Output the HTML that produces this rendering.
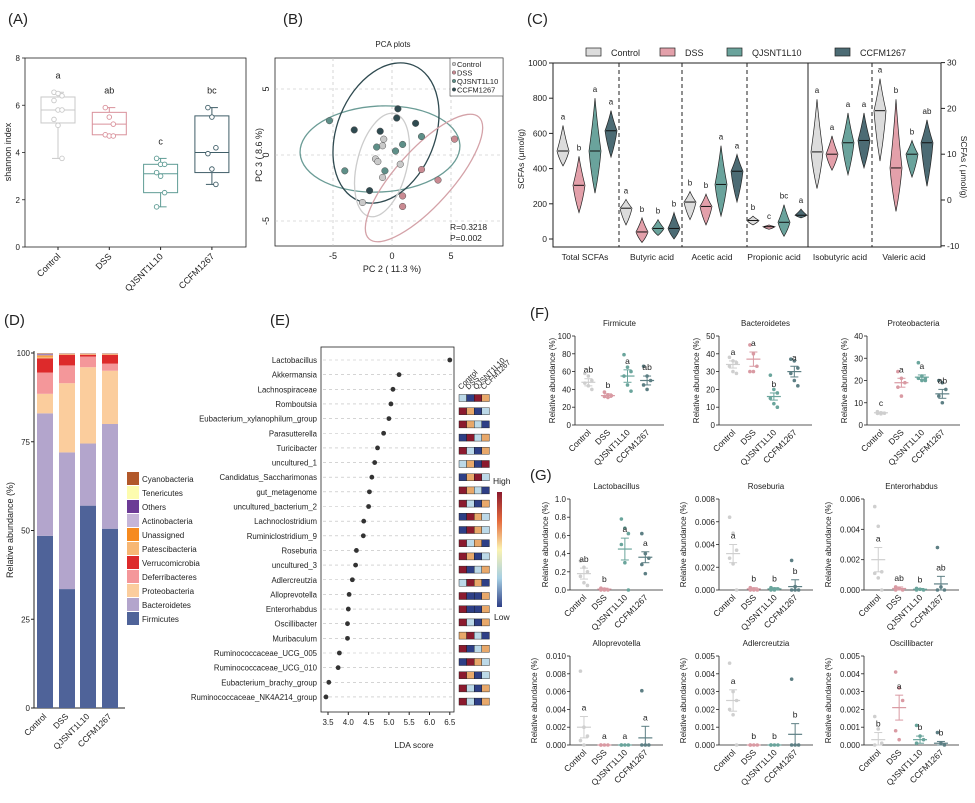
<!DOCTYPE html>
<html><head><meta charset="utf-8"><style>
html,body{margin:0;padding:0;background:#fff;}
svg{display:block;font-family:"Liberation Sans",Arial,sans-serif;}
</style></head><body>
<svg id="fig" width="975" height="803" viewBox="0 0 975 803"></svg>
<script>
// ---------- DATA ----------
const groups = ["Control","DSS","QJSNT1L10","CCFM1267"];
// Panel A
const shannonBox = [[3.75,5.25,5.8,6.35,6.55],[4.7,4.75,5.2,5.7,5.9],[1.7,2.3,3.1,3.5,3.75],[2.65,3.15,4.0,5.55,5.9]];
const shannonPts = [[6.55,6.5,6.4,6.2,5.8,5.8,5.4,5.15,3.75],[5.9,5.5,5.2,4.75,4.7,4.7],[3.75,3.5,3.5,3.15,3.0,2.3,1.7],[5.9,5.5,4.2,3.95,3.3,2.65]];
const shannonLetters = ["a","ab","c","bc"];
const shannonTicks = [0,2,4,6,8];
// Panel B
const pcaX = [[-0.7,-0.8,-1.4,-1.2,0.7,-0.8,-2.5],[5.3,2.5,3.9,0.9,0.9],[-5.3,2.5,0.9,0.3,-1.3,-4.0,-0.6],[0.5,0.4,-3.2,-1.0,2.0,-1.9]];
const pcaY = [[1.2,0.7,-0.3,-0.5,-0.7,-1.7,-3.6],[1.2,-1.1,-1.9,-3.1,-3.9],[2.6,1.4,0.8,0.3,0.6,-1.2,-1.2],[3.5,2.8,1.9,1.8,2.4,-2.7]];
const pcaTicks = [-5,0,5];
// Panel C
const scfaCats = ["Total SCFAs","Butyric acid","Acetic acid","Propionic acid","Isobutyric acid","Valeric acid"];
const scfaMed = [[500,305,500,615],[175,40,60,60],[210,185,310,385],[105,70,95,135],[10.5,10,12.5,13],[19.5,7,10,12.5]];
const scfaMin = [[415,150,260,465],[80,-20,20,0],[110,80,130,210],[80,55,15,120],[2.5,6.5,5.5,7],[8.5,-2.5,5,3]];
const scfaMax = [[645,470,800,730],[225,120,110,150],[270,255,530,480],[130,80,195,170],[22,14,19,19],[26.5,22,13,17.5]];
const scfaLetters = [["a","b","a","a"],["a","b","b","b"],["b","b","a","a"],["b","c","bc","a"],["a","a","a","a"],["a","b","b","ab"]];
const scfaLeftTicks = [0,200,400,600,800,1000];
const scfaRightTicks = [-10,0,10,20,30];
// Panel D
const phyla = ["Firmicutes","Bacteroidetes","Proteobacteria","Deferribacteres","Verrucomicrobia","Patescibacteria","Unassigned","Actinobacteria","Others","Tenericutes","Cyanobacteria"];
const phylaColors = ["#4f6399","#b3a5cc","#fbcd9d","#f4979a","#dd2a2b","#f7b774","#f68a1f","#c5b5d8","#6c3b96","#fdfcae","#b2582a"];
const phylaVals = [[48.5,34.5,5.5,6,4,0.5,0.3,0.3,0.2,0.1,0.1],[33.5,38.5,19.5,5,3,0.2,0.1,0.1,0.05,0.03,0.02],[57,17.5,21.5,3,0.5,0.2,0.1,0.1,0.05,0.03,0.02],[50.5,29.5,15,2,2.5,0.2,0.1,0.1,0.05,0.03,0.02]];
const phylaTicks = [0,25,50,75,100];
// Panel E
const ldaNames = ["Lactobacillus","Akkermansia","Lachnospiraceae","Romboutsia","Eubacterium_xylanophilum_group","Parasutterella","Turicibacter","uncultured_1","Candidatus_Saccharimonas","gut_metagenome","uncultured_bacterium_2","Lachnoclostridium","Ruminiclostridium_9","Roseburia","uncultured_3","Adlercreutzia","Alloprevotella","Enterorhabdus","Oscillibacter","Muribaculum","Ruminococcaceae_UCG_005","Ruminococcaceae_UCG_010","Eubacterium_brachy_group","Ruminococcaceae_NK4A214_group"];
const ldaVals = [6.5,5.25,5.1,5.05,5.0,4.87,4.72,4.65,4.58,4.52,4.5,4.38,4.37,4.2,4.18,4.1,4.02,4.0,3.98,3.98,3.78,3.75,3.52,3.45];
const ldaTicks = [3.5,4.0,4.5,5.0,5.5,6.0,6.5];
const heatLevels = [[3,4,1,2],[1,2,4,3],[1,2,3,4],[4,1,3,2],[1,3,4,2],[3,2,4,1],[4,2,1,3],[1,2,3,4],[1,3,4,2],[4,1,2,3],[4,1,2,3],[1,3,2,4],[1,2,4,3],[1,4,3,2],[3,1,2,4],[1,4,4,2],[1,4,4,2],[1,3,4,2],[2,1,3,4],[1,4,3,2],[4,1,2,3],[1,2,4,3],[1,3,4,2],[1,3,4,2]];
// Panels F/G
const dotTitles = ["Firmicute","Bacteroidetes","Proteobacteria","Lactobacillus","Roseburia","Enterorhabdus","Alloprevotella","Adlercreutzia","Oscillibacter"];
const dotMax = [100,50,40,1.0,0.008,0.006,0.010,0.005,0.005];
const dotStep = [20,10,10,0.2,0.002,0.002,0.002,0.001,0.001];
const dotMeans = [[48,33,55,50],[34,37,16,30],[5.5,19,21.5,14],[0.18,0.01,0.45,0.36],[0.0032,0.0001,0.0001,0.0003],[0.002,0.0001,0.00005,0.0004],[0.002,0,0,0.0008],[0.0025,0,0,0.0006],[0.0003,0.0021,0.0003,0.0001]];
const dotSem = [[4,2,7,5],[2,4,2,3],[0.3,2,1,2],[0.06,0.01,0.12,0.06],[0.0008,0.0001,0.0001,0.0006],[0.0008,0.0001,0.00005,0.0005],[0.0012,0,0,0.0013],[0.0006,0,0,0.0006],[0.0004,0.0007,0.0002,0.0001]];
const dotPts = [
 [[58,55,50,47,44,40],[37,34,33,32,31],[79,65,60,55,45,38],[66,55,50,45,40]],
 [[38,36,35,33,30,29],[45,40,33,30,30],[28,20,18,15,12,10],[37,36,32,29,25,22]],
 [[6,5.5,5.3,5.2,5],[24,21,19,17,13],[28,22,21,21,20,20],[20,19,16,13,10]],
 [[0.32,0.25,0.2,0.15,0.08,0.05],[0.02,0.01,0,0,0],[0.78,0.68,0.62,0.5,0.3,0],[0.62,0.4,0.35,0.28,0.18]],
 [[0.0064,0.005,0.0035,0.0028,0.0023,0],[0.0002,0.0001,0,0,0],[0.0002,0.0001,0.0001,0,0],[0.0026,0.0003,0,0,0]],
 [[0.0055,0.0042,0.0012,0.0011,0.0008,0],[0.0002,0.0001,0,0],[0.0001,0.00005,0,0],[0.0028,0.0002,0,0]],
 [[0.0083,0.002,0.001,0.0005,0],[0,0,0,0],[0,0,0,0],[0.0061,0,0,0]],
 [[0.0046,0.003,0.0025,0.002,0.0017,0],[0,0,0,0],[0,0,0,0],[0.0037,0,0,0]],
 [[0.0016,0.0009,0.0001,0],[0.0041,0.0032,0.0025,0.0008,0.0003],[0.0011,0.0005,0.0003,0.0001],[0.0007,0.0001,0]]
];
const dotLetters = [["ab","b","a","ab"],["a","a","b","a"],["c","a","a","ab"],["ab","b","a","a"],["a","b","b","b"],["a","ab","b","ab"],["a","a","a","a"],["a","b","b","b"],["b","a","b","b"]];

// ---------- DRAW ----------
const svg = document.getElementById('fig');
const NS = "http://www.w3.org/2000/svg";
function mk(tag, attrs, name, parent){
  const el = document.createElementNS(NS, tag);
  for (const k in attrs) el.setAttribute(k, attrs[k]);
  
  
  (parent||svg).appendChild(el);
  return el;
}
function txt(x,y,s,name,opt){
  opt = opt||{};
  const a = {x:x,y:y,'font-size':opt.fs||9,fill:opt.fill||'#222','text-anchor':opt.anchor||'middle'};
  if (opt.rot!==undefined) a.transform = `rotate(${opt.rot} ${x} ${y})`;
  const t = mk('text', a, name);
  t.textContent = s;
  return t;
}
const gcol = ["#c9c9c9","#d9919b","#5f9c95","#405e68"];
const gfill = ["#dcdcdc","#e3a0aa","#6aa39c","#4c6b74"];

// Panel labels
[["(A)",8,24],["(B)",283,24],["(C)",527,24],["(D)",4,325],["(E)",270,325],["(F)",530,318],["(G)",530,480]].forEach(p=>{
  txt(p[1],p[2],p[0],'panel-label-'+p[0][1].toLowerCase(),{fs:15,anchor:'start'});
});

// ---- Panel A ----
{
  const L=25,R=246,T=58,B=247;
  const ys = v => B - (v/8)*(B-T);
  const xs = i => 58 + i*51.3;
  mk('rect',{x:L,y:T,width:R-L,height:B-T,fill:'none',stroke:'#222','stroke-width':0.8},'shannon-plot-frame');
  shannonTicks.forEach(t=>{ mk('line',{x1:L-3,x2:L,y1:ys(t),y2:ys(t),stroke:'#222','stroke-width':0.8},'y-tick'); txt(L-5,ys(t)+3,t,'y-tick-label',{anchor:'end',fs:8}); });
  txt(11,152,'shannon index','y-axis-title',{rot:-90,fs:9});
  groups.forEach((g,i)=>{
    const b=shannonBox[i], x=xs(i), c=gcol[i];
    mk('line',{x1:x,x2:x,y1:ys(b[0]),y2:ys(b[4]),stroke:c,'stroke-width':1},'whisker-'+g);
    mk('line',{x1:x-6,x2:x+6,y1:ys(b[0]),y2:ys(b[0]),stroke:c},'whisker-cap');
    mk('line',{x1:x-6,x2:x+6,y1:ys(b[4]),y2:ys(b[4]),stroke:c},'whisker-cap');
    mk('rect',{x:x-17,y:ys(b[3]),width:34,height:ys(b[1])-ys(b[3]),fill:'#fff',stroke:c,'stroke-width':1},'box-'+g);
    mk('line',{x1:x-17,x2:x+17,y1:ys(b[2]),y2:ys(b[2]),stroke:c},'median-'+g);
    shannonPts[i].forEach((p,j)=>mk('circle',{cx:x+((j%3)-1)*4,cy:ys(p),r:2.3,fill:'#fff',stroke:c,'stroke-width':0.9},'point-'+g));
    txt(x,ys(b[4])-14,shannonLetters[i],'sig-letter',{fs:9});
    mk('line',{x1:x,x2:x,y1:B,y2:B+3,stroke:'#222'},'x-tick');
    txt(x+3,B+10,g,'x-tick-label',{anchor:'end',rot:-45,fs:9});
  });
}

// ---- Panel B ----
{
  const L=275,R=503,T=58,B=246;
  const xs=v=>392+v*11.8, ys=v=>155-v*13.2;
  txt(393,47,'PCA plots','pca-title',{fs:8});
  mk('rect',{x:L,y:T,width:R-L,height:B-T,fill:'none',stroke:'#222','stroke-width':0.8},'pca-frame');
  pcaTicks.forEach(t=>{
    mk('line',{x1:xs(t),x2:xs(t),y1:T,y2:B,stroke:'#bbb','stroke-dasharray':'3,3','stroke-width':0.6},'grid-x');
    mk('line',{x1:L,x2:R,y1:ys(t),y2:ys(t),stroke:'#bbb','stroke-dasharray':'3,3','stroke-width':0.6},'grid-y');
    txt(xs(t),B+13,t,'x-tick-label',{fs:9});
    txt(L-6,ys(t),t,'y-tick-label',{fs:9,rot:-90});
  });
  txt(392,272,'PC 2 ( 11.3 %)','x-axis-title',{fs:9});
  txt(262,155,'PC 3 ( 8.6 %)','y-axis-title',{fs:9,rot:-90});
  mk('ellipse',{cx:380,cy:149,rx:80,ry:43,fill:'none',stroke:'#6b9c96','stroke-width':1.3,transform:'rotate(-3 380 149)'},'ellipse-QJSNT1L10');
  mk('ellipse',{cx:386,cy:133,rx:49,ry:73,fill:'none',stroke:'#2f4a50','stroke-width':1.3,transform:'rotate(22 386 133)'},'ellipse-CCFM1267');
  mk('ellipse',{cx:382,cy:165,rx:25,ry:53,fill:'none',stroke:'#ccc','stroke-width':1.3,transform:'rotate(14 382 165)'},'ellipse-Control');
  mk('ellipse',{cx:424,cy:178,rx:28,ry:82,fill:'none',stroke:'#d4a2a8','stroke-width':1.3,transform:'rotate(42 424 178)'},'ellipse-DSS');
  const pc = ["#c9c9c9","#c98a92","#5e8f88","#2f4a50"];
  groups.forEach((g,i)=>pcaX[i].forEach((v,j)=>mk('circle',{cx:xs(v),cy:ys(pcaY[i][j]),r:3.3,fill:pc[i],stroke:'#555','stroke-width':0.5},'pca-point-'+g)));
  mk('rect',{x:450,y:58,width:53,height:38,fill:'#fff',stroke:'#444','stroke-width':0.6},'pca-legend');
  groups.forEach((g,i)=>{ mk('circle',{cx:454,cy:64+i*8.5,r:1.8,fill:pc[i],stroke:'#444','stroke-width':0.4},'legend-dot'); txt(457,67+i*8.5,g,'legend-entry',{anchor:'start',fs:7.5}); });
  txt(450,230,'R=0.3218','r-value',{anchor:'start',fs:8.5});
  txt(450,241,'P=0.002','p-value',{anchor:'start',fs:8.5});
}

// ---- Panel C ----
{
  const L=553,R=941,T=63,B=247;
  const yl=v=>239-v*0.176, yr=v=>200-v*4.58;
  const cx=[[563,579,595,611],[626,642,658,674],[690,706,721,737],[753,769,784,801],[817,832,848,864],[880,896,912,927]];
  const lx=[585,652,712,774,840,904];
  const seps=[[619,1],[682,1],[747,1],[808,0],[872,1]];
  mk('rect',{x:L,y:T,width:R-L,height:B-T,fill:'none',stroke:'#222','stroke-width':1},'scfa-frame');
  seps.forEach(s=>mk('line',{x1:s[0],x2:s[0],y1:T,y2:B,stroke:'#222','stroke-width':1,'stroke-dasharray':s[1]?'4,3':'none'},'category-separator'));
  scfaLeftTicks.forEach(t=>{ mk('line',{x1:L-4,x2:L,y1:yl(t),y2:yl(t),stroke:'#222'},'y-tick-left'); txt(L-6,yl(t)+3,t,'y-tick-label-left',{anchor:'end',fs:8.5}); });
  scfaRightTicks.forEach(t=>{ mk('line',{x1:R,x2:R+4,y1:yr(t),y2:yr(t),stroke:'#222'},'y-tick-right'); txt(R+6,yr(t)+3,t,'y-tick-label-right',{anchor:'start',fs:8.5}); });
  txt(524,159,'SCFAs (μmol/g)','y-axis-title-left',{rot:-90,fs:8.5});
  txt(961,167,'SCFAs ( μmol/g)','y-axis-title-right',{rot:90,fs:8.5});
  scfaCats.forEach((c,k)=>{
    txt(lx[k],260,c,'category-label',{fs:8.5});
    const y = k>=4?yr:yl;
    groups.forEach((g,i)=>{
      const x=cx[k][i], top=y(scfaMax[k][i]), bot=y(scfaMin[k][i]), med=y(scfaMed[k][i]);
      const w=6, u=top+(med-top)*0.45, d=med+(bot-med)*0.5;
      const dpath=`M${x},${top} Q${x+2},${u} ${x+w},${med} Q${x+w*0.7},${d} ${x},${bot} Q${x-w*0.7},${d} ${x-w},${med} Q${x-2},${u} ${x},${top} Z`;
      mk('path',{d:dpath,fill:gfill[i],stroke:'#222','stroke-width':0.7},'violin-'+g);
      mk('line',{x1:x-w+1,x2:x+w-1,y1:med,y2:med,stroke:'#111','stroke-width':1},'violin-median');
      txt(x,top-6,scfaLetters[k][i],'sig-letter',{fs:8});
    });
  });
  const lgx=[586,660,727,835];
  groups.forEach((g,i)=>{ mk('rect',{x:lgx[i],y:48,width:15,height:8,fill:gfill[i],stroke:'#222','stroke-width':0.7},'legend-swatch-'+g); txt(lgx[i]+25,56,g,'legend-entry',{anchor:'start',fs:9}); });
}

// ---- Panel D ----
{
  const L=34,B=708,T=353;
  const ys=v=>B-v/100*(B-T);
  const bx=[37,59,80,102];
  mk('line',{x1:L,x2:L,y1:T-2,y2:B,stroke:'#222'},'y-axis');
  mk('line',{x1:L,x2:125,y1:B,y2:B,stroke:'#222'},'x-axis');
  phylaTicks.forEach(t=>{ mk('line',{x1:L-3,x2:L,y1:ys(t),y2:ys(t),stroke:'#222'},'y-tick'); txt(L-4,ys(t)+3,t,'y-tick-label',{anchor:'end',fs:8}); });
  txt(13,530,'Relative abundance (%)','y-axis-title',{rot:-90,fs:9});
  groups.forEach((g,i)=>{
    let acc=0;
    phylaVals[i].forEach((v,k)=>{ mk('rect',{x:bx[i],y:ys(acc+v),width:16,height:ys(acc)-ys(acc+v),fill:phylaColors[k]},'bar-'+phyla[k]+'-'+g); acc+=v; });
    if (acc<100) mk('rect',{x:bx[i],y:ys(100),width:16,height:ys(acc)-ys(100),fill:'#e9c2b4'},'bar-rest');
    txt(bx[i]+10,B+9,g,'x-tick-label',{anchor:'end',rot:-45,fs:8.5});
  });
  const order=[10,9,8,7,6,5,4,3,2,1,0];
  order.forEach((k,j)=>{ mk('rect',{x:127,y:472+j*14,width:12,height:13,fill:phylaColors[k]},'legend-swatch-'+phyla[k]); txt(142,482+j*14,phyla[k],'legend-entry',{anchor:'start',fs:8}); });
}

// ---- Panel E ----
{
  const L=321,R=454,T=347,B=712;
  const xs=v=>328+(v-3.5)*40.6;
  const ry=i=>360+i*14.65;
  mk('rect',{x:L,y:T,width:R-L,height:B-T,fill:'none',stroke:'#222','stroke-width':0.8},'lda-frame');
  ldaNames.forEach((n,i)=>{
    mk('line',{x1:L+2,x2:R-2,y1:ry(i),y2:ry(i),stroke:'#bbb','stroke-dasharray':'3,3','stroke-width':0.6},'row-guide');
    mk('circle',{cx:xs(ldaVals[i]),cy:ry(i),r:2.4,fill:'#333'},'lda-point-'+n);
    txt(317,ry(i)+3,n,'taxon-label',{anchor:'end',fs:7.8});
  });
  ldaTicks.forEach(t=>{ mk('line',{x1:xs(t),x2:xs(t),y1:B,y2:B+3,stroke:'#222'},'x-tick'); txt(xs(t),B+13,t.toFixed(1),'x-tick-label',{fs:8}); });
  txt(414,748,'LDA score','x-axis-title',{fs:8.5});
  const hc={1:'#8b1a2e',2:'#e8a86a',3:'#bcd9e8',4:'#2e3f86'};
  heatLevels.forEach((row,i)=>row.forEach((l,j)=>mk('rect',{x:459+j*7.6,y:394.5+i*13.2,width:7.6,height:7,fill:hc[l],stroke:'#111','stroke-width':0.4},'heatmap-cell')));
  groups.forEach((g,j)=>txt(461+j*7.6,390,g,'heatmap-column-label',{anchor:'start',rot:-45,fs:7.5}));
  const defs=mk('defs',{},'defs');
  const lg=mk('linearGradient',{id:'cb',x1:0,y1:0,x2:0,y2:1},'colorbar-gradient',defs);
  [['0','#8b1a2e'],['0.25','#e46a3c'],['0.5','#fbf3b0'],['0.75','#a6cfe3'],['1','#2e3f86']].forEach(s=>mk('stop',{offset:s[0],'stop-color':s[1]},'gradient-stop',lg));
  mk('rect',{x:497,y:492,width:5,height:115,fill:'url(#cb)'},'colorbar');
  txt(493,484,'High','colorbar-high-label',{anchor:'start',fs:8.5});
  txt(494,620,'Low','colorbar-low-label',{anchor:'start',fs:8.5});
}

// ---- Panels F/G ----
{
  const boxes=[[575,664,336,425],[719,812,336,425],[867,960,336,425],
               [570,663,499,590],[719,813,499,590],[864,959,499,590],
               [570,663,656,745],[719,813,656,745],[864,959,656,745]];
  const dc=["#cfcfcf","#d99aa3","#6aa59c","#5d7f84"];
  dotTitles.forEach((title,p)=>{
    const [L,R,T,B]=boxes[p], W=R-L;
    const ys=v=>B-v/dotMax[p]*(B-T);
    const xs=i=>L+W*(0.15+0.22*i);
    txt((L+R)/2,T-10,title,'subplot-title-'+title,{fs:8});
    mk('line',{x1:L,x2:L,y1:T,y2:B,stroke:'#222','stroke-width':0.8},'y-axis');
    mk('line',{x1:L,x2:R,y1:B,y2:B,stroke:'#222','stroke-width':0.8},'x-axis');
    const dec = dotStep[p]<0.01?3:(dotStep[p]<1?1:0);
    for(let t=0;t<=dotMax[p]+1e-9;t+=dotStep[p]){
      mk('line',{x1:L-3,x2:L,y1:ys(t),y2:ys(t),stroke:'#222','stroke-width':0.8},'y-tick');
      txt(L-4,ys(t)+3,t.toFixed(dec),'y-tick-label',{anchor:'end',fs:8});
    }
    txt(L-(dec===3?33:(dec===1?22:20)),(T+B)/2,'Relative abundance (%)','y-axis-title',{rot:-90,fs:8});
    groups.forEach((g,i)=>{
      const x=xs(i), c=dc[i];
      dotPts[p][i].forEach((v,j)=>mk('circle',{cx:x+((j%3)-1)*3.5,cy:ys(v),r:1.8,fill:c},'dot-'+g));
      const m=dotMeans[p][i], s=dotSem[p][i];
      mk('line',{x1:x-7,x2:x+7,y1:ys(m),y2:ys(m),stroke:c,'stroke-width':1.2},'mean-bar-'+g);
      mk('line',{x1:x,x2:x,y1:ys(m+s),y2:ys(Math.max(0,m-s)),stroke:c,'stroke-width':1},'sem-bar');
      mk('line',{x1:x-4,x2:x+4,y1:ys(m+s),y2:ys(m+s),stroke:c},'sem-cap');
      mk('line',{x1:x-4,x2:x+4,y1:ys(Math.max(0,m-s)),y2:ys(Math.max(0,m-s)),stroke:c},'sem-cap');
      txt(x,ys(m+s)-6,dotLetters[p][i],'sig-letter',{fs:8.5});
      txt(x+3,B+8,g,'x-tick-label',{anchor:'end',rot:-45,fs:8.5});
    });
  });
}
</script>
</body></html>
